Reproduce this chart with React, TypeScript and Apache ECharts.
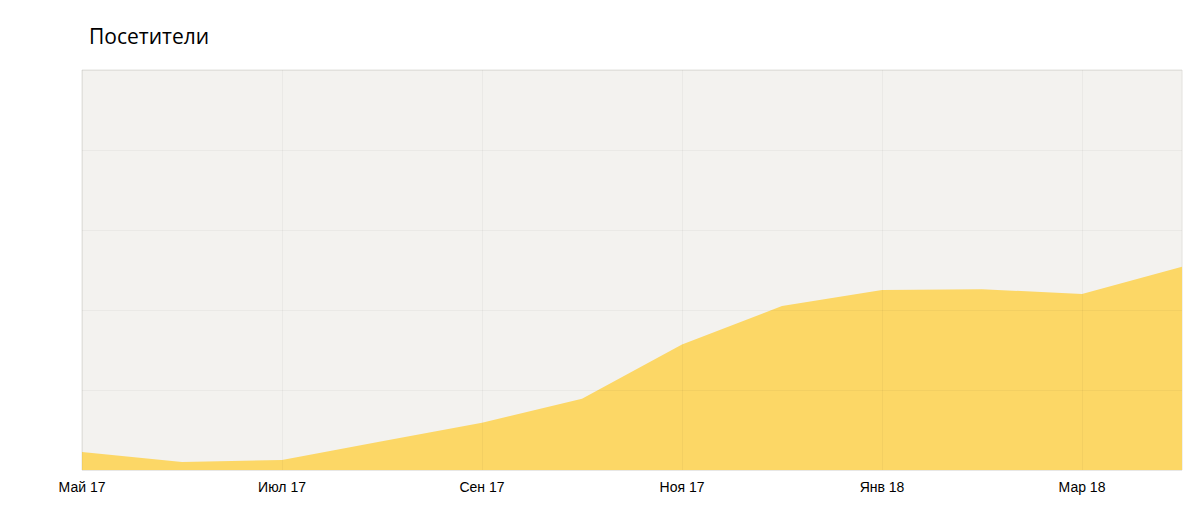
import React, { useEffect, useRef } from "react";
import * as echarts from "echarts";

const months = ["Май 17", "Июн 17", "Июл 17", "Авг 17", "Сен 17", "Окт 17", "Ноя 17", "Дек 17", "Янв 18", "Фев 18", "Мар 18", "Апр 18"];
const visitors = [22.5, 10, 12.5, 36, 59, 89, 157, 205, 225, 226, 220, 254];
const title = "Посетители";

export default function App() {
  const ref = useRef<HTMLDivElement>(null);
  useEffect(() => {
    const chart = echarts.init(ref.current!, null, { renderer: "svg" });
    chart.setOption({
      animation: false,
      title: {
        text: title,
        left: 84,
        top: 20,
        textStyle: { fontFamily: "Open Sans", fontSize: 21, fontWeight: "normal", color: "#000" },
      },
      grid: {
        left: 82,
        right: 18,
        top: 70,
        bottom: 35,
        show: true,
        backgroundColor: "#f3f2ef",
        borderColor: "#e3e2de",
        borderWidth: 1,
      },
      xAxis: {
        type: "category",
        data: months,
        boundaryGap: false,
        z: 3,
        axisLine: { show: false },
        axisTick: { show: false },
        axisLabel: {
          interval: 1,
          color: "#000",
          fontFamily: "Arial, Liberation Sans",
          fontSize: 14,
          margin: 10,
        },
        splitLine: { show: true, interval: 1, lineStyle: { color: "rgba(0,0,0,0.035)", width: 1 } },
      },
      yAxis: {
        type: "value",
        min: 0,
        max: 500,
        interval: 100,
        z: 3,
        axisLine: { show: false },
        axisTick: { show: false },
        axisLabel: { show: false },
        splitLine: { show: true, lineStyle: { color: "rgba(0,0,0,0.035)", width: 1 } },
      },
      series: [
        {
          type: "line",
          data: visitors,
          symbol: "none",
          lineStyle: { width: 0 },
          areaStyle: { color: "#fcd766", opacity: 1 },
          z: 2,
        },
      ],
    });
    return () => chart.dispose();
  }, []);
  return <div ref={ref} style={{ position: "absolute", left: 0, top: 0, width: 1200, height: 505 }} />;
}
